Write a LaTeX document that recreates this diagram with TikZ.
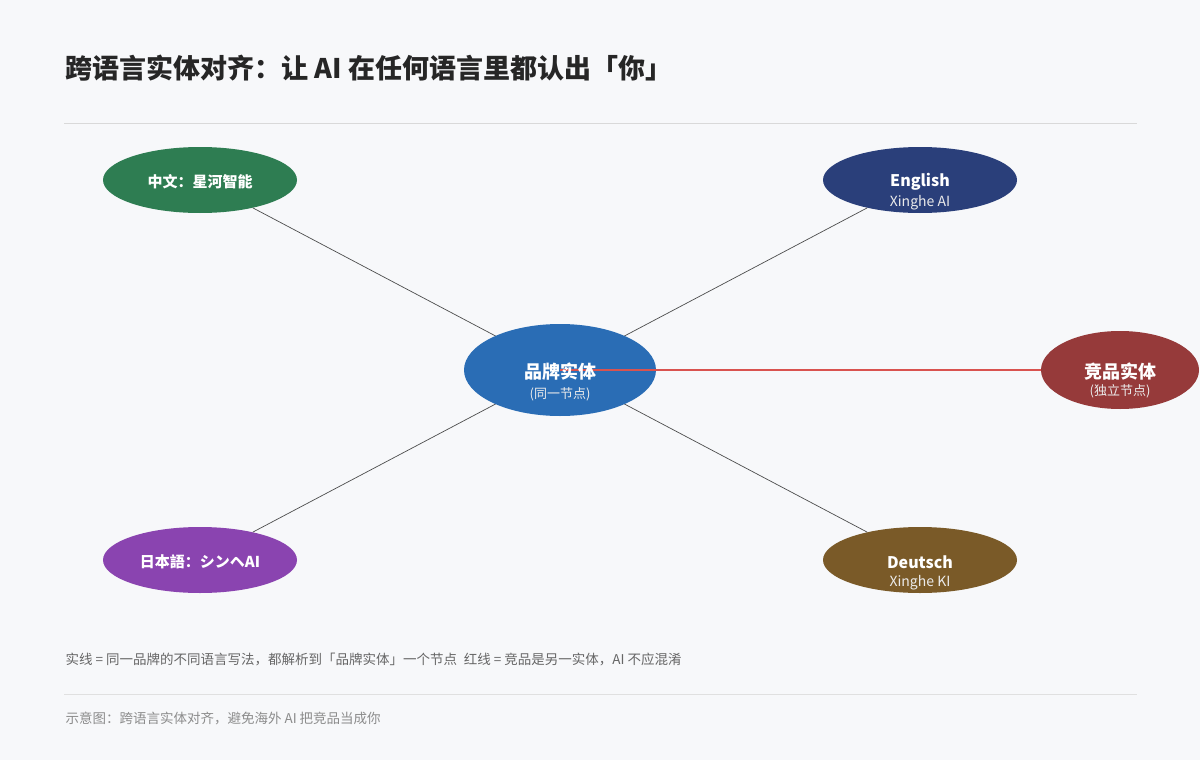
\documentclass[tikz,border=0pt]{standalone}
\usepackage{fontspec}
\setmainfont{Noto Sans CJK SC}
\usetikzlibrary{shapes.geometric}
\definecolor{bg}{HTML}{F7F8FA}
\definecolor{cgreen}{HTML}{2E7D52}
\definecolor{cnavy}{HTML}{2A3F7A}
\definecolor{cblue}{HTML}{2A6DB5}
\definecolor{cred}{HTML}{963A3A}
\definecolor{cpurple}{HTML}{8A44B0}
\definecolor{cbrown}{HTML}{7A5A28}
\definecolor{lred}{HTML}{D9534F}
\begin{document}
\begin{tikzpicture}[x=1pt,y=-1pt,
  ell/.style={ellipse,draw=none,minimum width=194pt,minimum height=66pt,inner sep=0pt},
  main/.style={text=white,font=\fontsize{16}{18}\selectfont\bfseries},
  sub/.style={text=white!92!black,font=\fontsize{14}{16}\selectfont},
  conn/.style={draw=black!70,line width=0.7pt}]
\fill[bg] (0,0) rectangle (1200,760);
\useasboundingbox (0,0) rectangle (1200,760);
\node[anchor=west,font=\fontsize{27}{30}\selectfont\bfseries,text=black!85] (title) at (62,68) {跨语言实体对齐：让 AI 在任何语言里都认出「你」};
\draw[black!15,line width=1pt] (64,123) coordinate (r1a) -- (1137,123) coordinate (r1b);
% ellipses
\node[ell,fill=cgreen] (zh) at (200,180) {};
\node[ell,fill=cnavy] (en) at (920,180) {};
\node[ell,fill=cpurple] (ja) at (200,560) {};
\node[ell,fill=cbrown] (de) at (920,560) {};
\node[ell,fill=cred,minimum width=158pt,minimum height=78pt] (comp) at (1120,370) {};
\coordinate (bc) at (560,370);
\draw[conn] (bc) -- (zh);
\draw[conn] (bc) -- (en);
\draw[conn] (bc) -- (ja);
\draw[conn] (bc) -- (de);
\node[ell,fill=cblue,minimum width=192pt,minimum height=92pt] (brand) at (560,370) {};
\draw[lred,line width=1.3pt] (brand.center) -- (comp.west);
% labels
\node[main,font=\fontsize{15}{17}\selectfont\bfseries] (tzh) at (200,182) {中文：星河智能};
\node[main] (ten) at (920,182) {English};
\node[sub] (sen) at (920,203) {Xinghe AI};
\node[main,font=\fontsize{15}{17}\selectfont\bfseries] (tja) at (200,562) {日本語：シンヘAI};
\node[main] (tde) at (920,562) {Deutsch};
\node[sub] (sde) at (920,583) {Xinghe KI};
\node[main,font=\fontsize{18}{20}\selectfont\bfseries] (tbr) at (560,372) {品牌实体};
\node[sub,font=\fontsize{13}{15}\selectfont] (sbr) at (560,394) {(同一节点)};
\node[main,font=\fontsize{18}{20}\selectfont\bfseries] (tco) at (1120,372) {竞品实体};
\node[sub,font=\fontsize{13}{15}\selectfont] (sco) at (1120,391) {(独立节点)};
\node[anchor=west,text=black!60,font=\fontsize{13.5}{15}\selectfont] (cap) at (62,659) {实线 = 同一品牌的不同语言写法，都解析到「品牌实体」一个节点\enspace 红线 = 竞品是另一实体，AI 不应混淆};
\draw[black!12,line width=0.8pt] (64,694) coordinate (r2a) -- (1137,694) coordinate (r2b);
\node[anchor=west,text=black!45,font=\fontsize{13.5}{15}\selectfont] (foot) at (62,718) {示意图：跨语言实体对齐，避免海外 AI 把竞品当成你};
\end{tikzpicture}
\end{document}
